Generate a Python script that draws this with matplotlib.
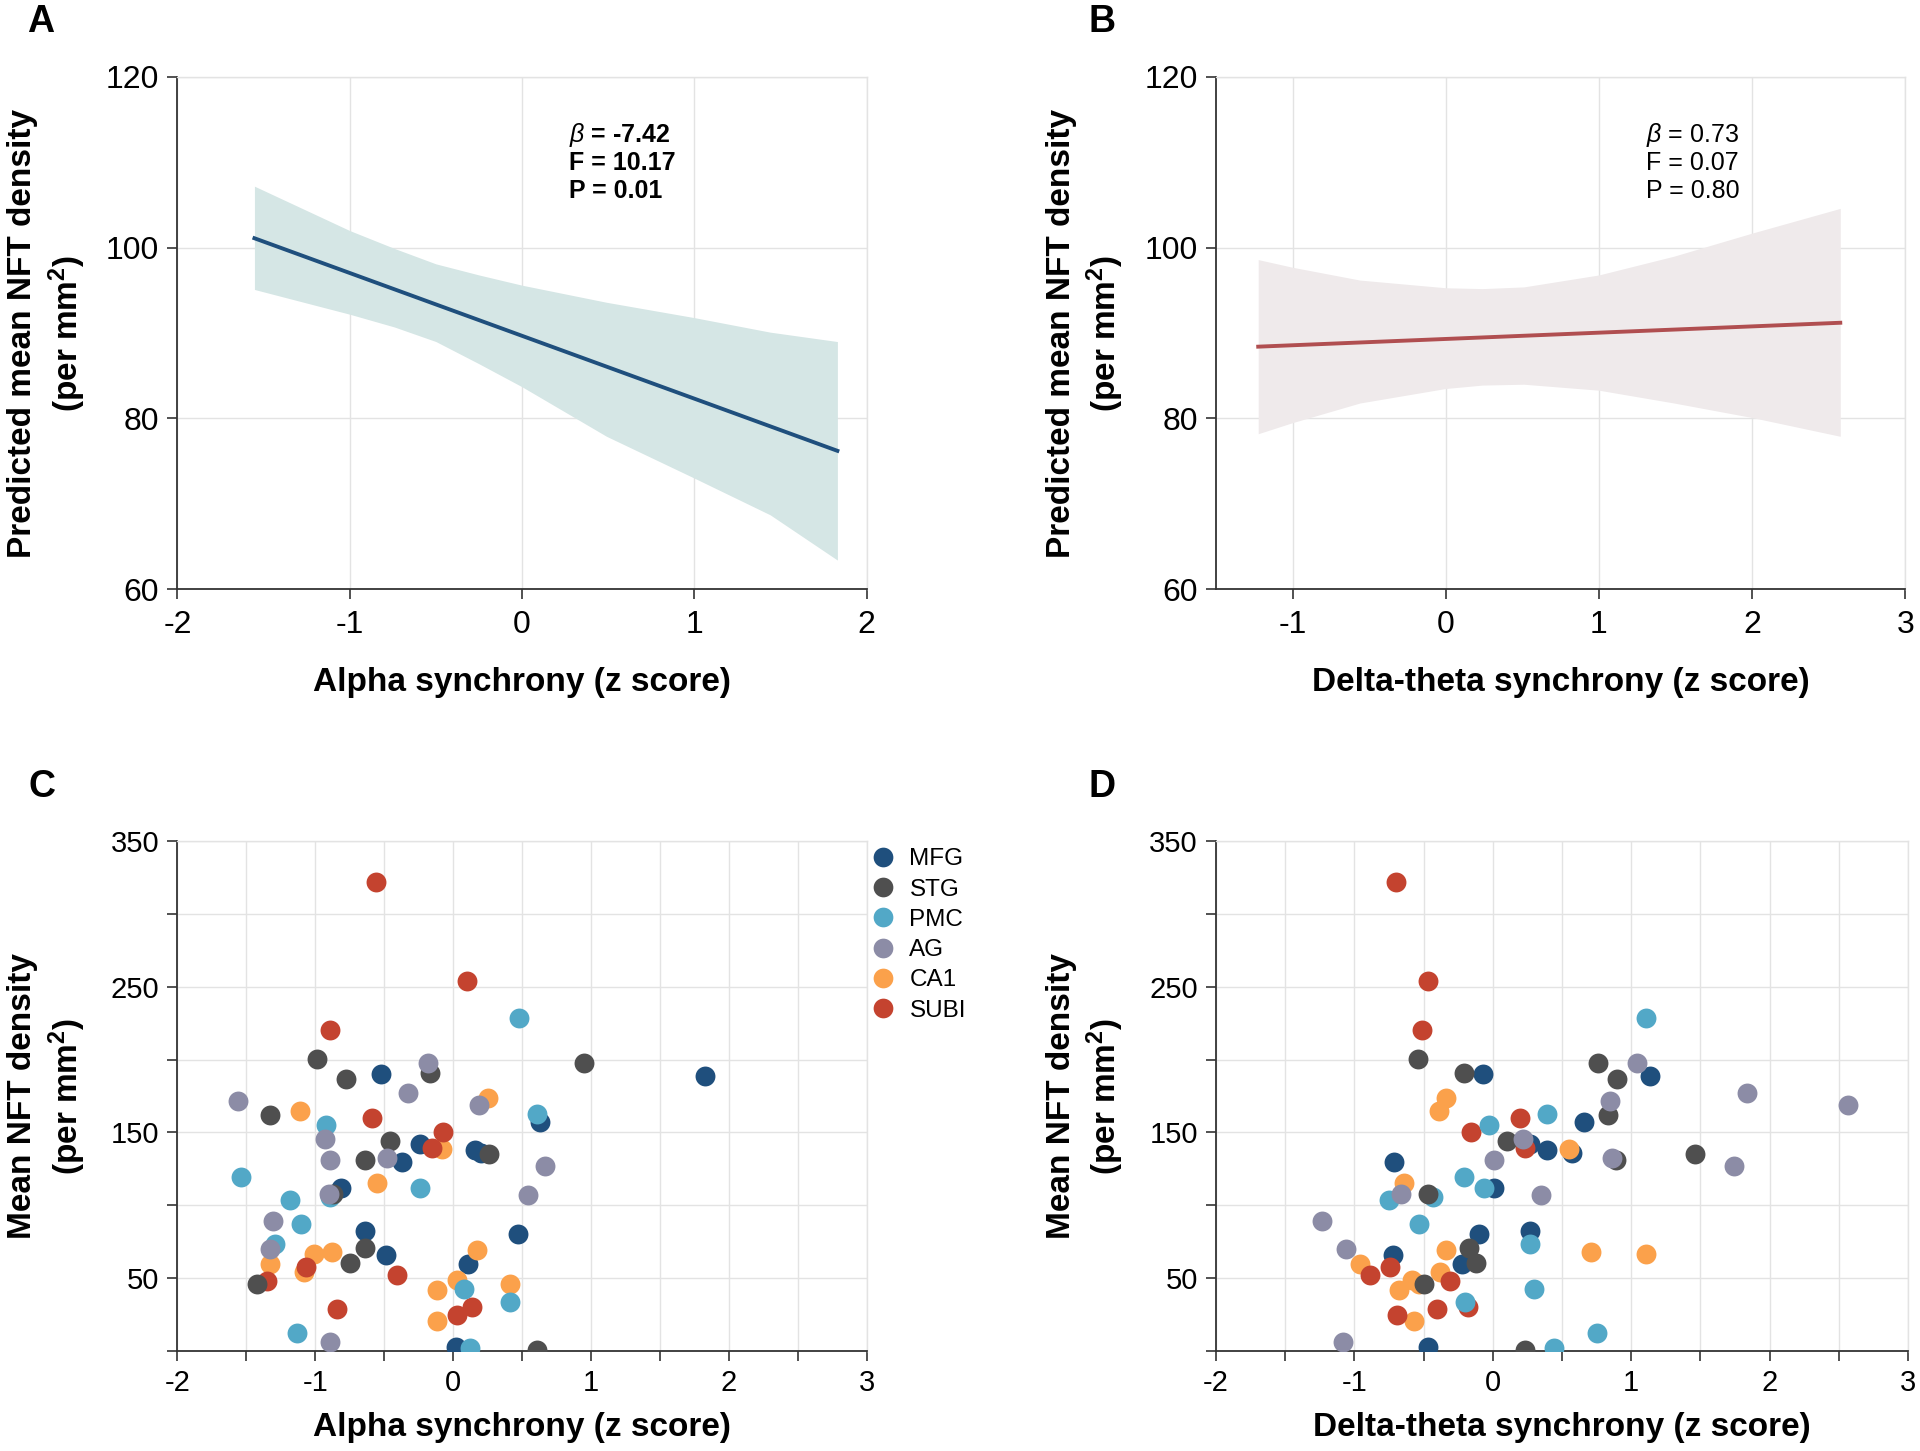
import matplotlib
matplotlib.use("Agg")
import matplotlib.pyplot as plt
from matplotlib import font_manager
from matplotlib.lines import Line2D
from matplotlib.ticker import MultipleLocator

names = {f.name for f in font_manager.fontManager.ttflist}
NARROW = "Liberation Sans Narrow" if "Liberation Sans Narrow" in names else "Liberation Sans"
plt.rcParams["font.family"] = ["Liberation Sans", "DejaVu Sans"]
plt.rcParams["axes.unicode_minus"] = False
plt.rcParams["mathtext.fontset"] = "custom"
plt.rcParams["mathtext.rm"] = "Liberation Sans"
plt.rcParams["mathtext.it"] = "Liberation Sans:italic"
plt.rcParams["mathtext.bf"] = "Liberation Sans:bold"

# ---- panel A: fitted line and confidence band (alpha) ----
a_line_x = [-1.553, 1.83]
a_line_y = [101.1, 76.2]
a_band_x = [-1.553, -1.0, -0.74, -0.5, -0.25, 0.0, 0.49, 1.0, 1.44, 1.83]
a_upper = [107.2, 102.0, 99.9, 98.1, 96.8, 95.6, 93.6, 91.8, 90.1, 89.0]
a_lower = [95.1, 92.2, 90.7, 89.0, 86.4, 83.7, 77.9, 73.0, 68.7, 63.4]
a_stats = [r"$\beta$ = -7.42", "F = 10.17", "P = 0.01"]

# ---- panel B: fitted line and confidence band (delta-theta) ----
b_line_x = [-1.224, 2.576]
b_line_y = [88.4, 91.2]
b_band_x = [-1.224, -1.0, -0.56, 0.0, 0.24, 0.51, 1.0, 1.49, 2.0, 2.576]
b_upper = [98.6, 97.7, 96.2, 95.3, 95.2, 95.4, 96.8, 99.0, 101.7, 104.6]
b_lower = [78.2, 79.5, 81.8, 83.5, 83.9, 84.0, 83.3, 81.8, 80.1, 77.9]
b_stats = [r"$\beta$ = 0.73", "F = 0.07", "P = 0.80"]

# ---- panels C/D: per-region points (density shared, two x measures) ----
regions = ["MFG", "STG", "PMC", "AG", "CA1", "SUBI"]
colors = ["#1f4f7d", "#4f4f4f", "#52a8c7", "#8c8ca6", "#fba14b", "#c4432f"]

mfg_y = [188.8, 190.0, 157.5, 142.0, 138.0, 136.0, 129.8, 111.7, 82.6, 80.3, 66.0, 60.0, 3.0]
mfg_alpha = [1.83, -0.52, 0.63, -0.24, 0.16, 0.20, -0.37, -0.81, -0.64, 0.47, -0.49, 0.11, 0.02]
mfg_delta = [1.14, -0.07, 0.66, 0.27, 0.39, 0.57, -0.71, 0.01, 0.27, -0.10, -0.72, -0.22, -0.47]

stg_y = [200.6, 197.5, 190.8, 186.7, 162.0, 143.9, 134.9, 131.4, 108.0, 70.8, 60.6, 46.3, 0.7]
stg_alpha = [-0.99, 0.95, -0.17, -0.78, -1.33, -0.46, 0.26, -0.64, -0.87, -0.64, -0.75, -1.42, 0.61]
stg_delta = [-0.54, 0.76, -0.21, 0.90, 0.83, 0.10, 1.46, 0.89, -0.47, -0.17, -0.12, -0.50, 0.23]

pmc_y = [228.8, 162.6, 155.4, 119.6, 112.2, 103.6, 106.0, 87.0, 73.6, 42.3, 33.5, 12.3, 2.3]
pmc_alpha = [0.48, 0.61, -0.92, -1.54, -0.24, -1.18, -0.89, -1.10, -1.29, 0.08, 0.41, -1.13, 0.12]
pmc_delta = [1.11, 0.39, -0.03, -0.21, -0.06, -0.75, -0.43, -0.53, 0.27, 0.30, -0.20, 0.75, 0.44]

ag_y = [171.4, 197.8, 177.4, 168.9, 145.5, 131.4, 132.8, 127.0, 107.6, 106.9, 89.5, 70.0, 6.2]
ag_alpha = [-1.56, -0.18, -0.33, 0.19, -0.93, -0.89, -0.48, 0.67, -0.90, 0.54, -1.31, -1.33, -0.89]
ag_delta = [0.85, 1.04, 1.84, 2.57, 0.22, 0.01, 0.86, 1.74, -0.66, 0.35, -1.23, -1.06, -1.08]

ca1_y = [173.5, 165.0, 138.5, 115.0, 69.0, 67.8, 66.6, 60.0, 54.0, 49.0, 45.8, 41.6, 20.8]
ca1_alpha = [0.25, -1.11, -0.08, -0.55, 0.17, -0.88, -1.01, -1.33, -1.08, 0.03, 0.41, -0.12, -0.12]
ca1_delta = [-0.34, -0.39, 0.55, -0.64, -0.34, 0.71, 1.11, -0.96, -0.38, -0.58, -0.53, -0.68, -0.57]

subi_y = [322.0, 254.0, 220.0, 160.0, 150.0, 139.5, 58.0, 52.0, 48.0, 30.5, 29.0, 25.0]
subi_alpha = [-0.56, 0.10, -0.89, -0.59, -0.07, -0.15, -1.07, -0.41, -1.35, 0.14, -0.84, 0.03]
subi_delta = [-0.70, -0.47, -0.51, 0.20, -0.16, 0.23, -0.74, -0.89, -0.31, -0.18, -0.40, -0.69]

groups = {
    "MFG": (mfg_y, mfg_alpha, mfg_delta),
    "STG": (stg_y, stg_alpha, stg_delta),
    "PMC": (pmc_y, pmc_alpha, pmc_delta),
    "AG": (ag_y, ag_alpha, ag_delta),
    "CA1": (ca1_y, ca1_alpha, ca1_delta),
    "SUBI": (subi_y, subi_alpha, subi_delta),
}
draw_order = ["MFG", "CA1", "SUBI", "PMC", "STG", "AG"]
color_of = dict(zip(regions, colors))

GRID = "#e3e3e3"
DARK = "#333333"


def style(ax):
    ax.grid(True, which="both", color=GRID, lw=1)
    ax.set_axisbelow(True)
    for s in ("top", "right"):
        ax.spines[s].set_color(GRID)
        ax.spines[s].set_linewidth(1)
    for s in ("left", "bottom"):
        ax.spines[s].set_color(DARK)
        ax.spines[s].set_linewidth(1.3)
    ax.tick_params(which="both", direction="out", length=7, width=1.2, color=DARK)


fig = plt.figure(figsize=(19.2, 14.51), dpi=100)
axA = fig.add_axes([0.0924, 0.594, 0.359, 0.353])
axB = fig.add_axes([0.6333, 0.594, 0.359, 0.353])
axC = fig.add_axes([0.0924, 0.0689, 0.359, 0.3515])
axD = fig.add_axes([0.6333, 0.0689, 0.3604, 0.3515])

ylab_top = "Predicted mean NFT density\n(per mm$^{\\mathbf{2}}$)"
ylab_bot = "Mean NFT density\n(per mm$^{\\mathbf{2}}$)"

# panel A
axA.fill_between(a_band_x, a_lower, a_upper, color="#d5e6e5", lw=0)
axA.plot(a_line_x, a_line_y, color="#1f4f7d", lw=2.8)
axA.set_xlim(-2, 2)
axA.set_ylim(60, 120)
axA.set_xticks([-2, -1, 0, 1, 2])
axA.set_yticks([60, 80, 100, 120])
for i, t in enumerate(a_stats):
    axA.text(0.568, 0.887 - 0.055 * i, t, transform=axA.transAxes, ha="left", va="center",
             fontsize=18, fontweight="bold", family=NARROW)

# panel B
axB.fill_between(b_band_x, b_lower, b_upper, color="#efeaeb", lw=0)
axB.plot(b_line_x, b_line_y, color="#b04e50", lw=2.8)
axB.set_xlim(-1.5, 3)
axB.set_ylim(60, 120)
axB.set_xticks([-1, 0, 1, 2, 3])
axB.set_yticks([60, 80, 100, 120])
for i, t in enumerate(b_stats):
    axB.text(0.624, 0.887 - 0.055 * i, t, transform=axB.transAxes, ha="left", va="center",
             fontsize=18, family=NARROW)

for ax, xl in ((axA, "Alpha synchrony (z score)"), (axB, "Delta-theta synchrony (z score)")):
    style(ax)
    ax.set_xlabel(xl, fontsize=24, fontweight="bold", family=NARROW)
    ax.set_ylabel(ylab_top, fontsize=24, fontweight="bold", linespacing=1.25)
    ax.xaxis.set_label_coords(0.5, -0.153)
    ax.yaxis.set_label_coords(-0.13, 0.5)
    for lab in ax.get_xticklabels() + ax.get_yticklabels():
        lab.set_family(NARROW)
        lab.set_fontsize(23)
    ax.tick_params(axis="x", pad=8)
    ax.tick_params(axis="y", pad=6)

# panels C and D
for ax, idx, xl in ((axC, 1, "Alpha synchrony (z score)"),
                    (axD, 2, "Delta-theta synchrony (z score)")):
    for r in draw_order:
        g = groups[r]
        ax.scatter(g[idx], g[0], s=205, color=color_of[r], linewidths=0, zorder=3)
    ax.set_xlim(-2, 3)
    ax.set_ylim(0, 350)
    ax.xaxis.set_major_locator(MultipleLocator(1))
    ax.xaxis.set_minor_locator(MultipleLocator(0.5))
    ax.set_yticks([50, 150, 250, 350])
    ax.set_yticks([0, 100, 200, 300], minor=True)
    style(ax)
    ax.set_xlabel(xl, fontsize=24, fontweight="bold")
    ax.set_ylabel(ylab_bot, fontsize=24, fontweight="bold", linespacing=1.25)
    ax.xaxis.set_label_coords(0.5, -0.12)
    ax.yaxis.set_label_coords(-0.13, 0.5)
    ax.tick_params(labelsize=21)
    ax.tick_params(axis="x", pad=6)
    ax.tick_params(axis="y", pad=6)

handles = [Line2D([], [], marker="o", ls="", markersize=14.2, markerfacecolor=c,
                  markeredgewidth=0) for c in colors]
axC.legend(handles, regions, loc="upper left", bbox_to_anchor=(0.995, 1.0), frameon=False,
           fontsize=17.5, handletextpad=0.6, labelspacing=0.34, borderaxespad=0,
           borderpad=0.3, handlelength=1.0)

for lbl, x, y in (("A", 0.021, 0.985), ("B", 0.574, 0.985), ("C", 0.022, 0.4576), ("D", 0.574, 0.4576)):
    fig.text(x, y, lbl, fontsize=27, fontweight="bold", ha="center", va="center")

fig.savefig("out.png", dpi=100)
